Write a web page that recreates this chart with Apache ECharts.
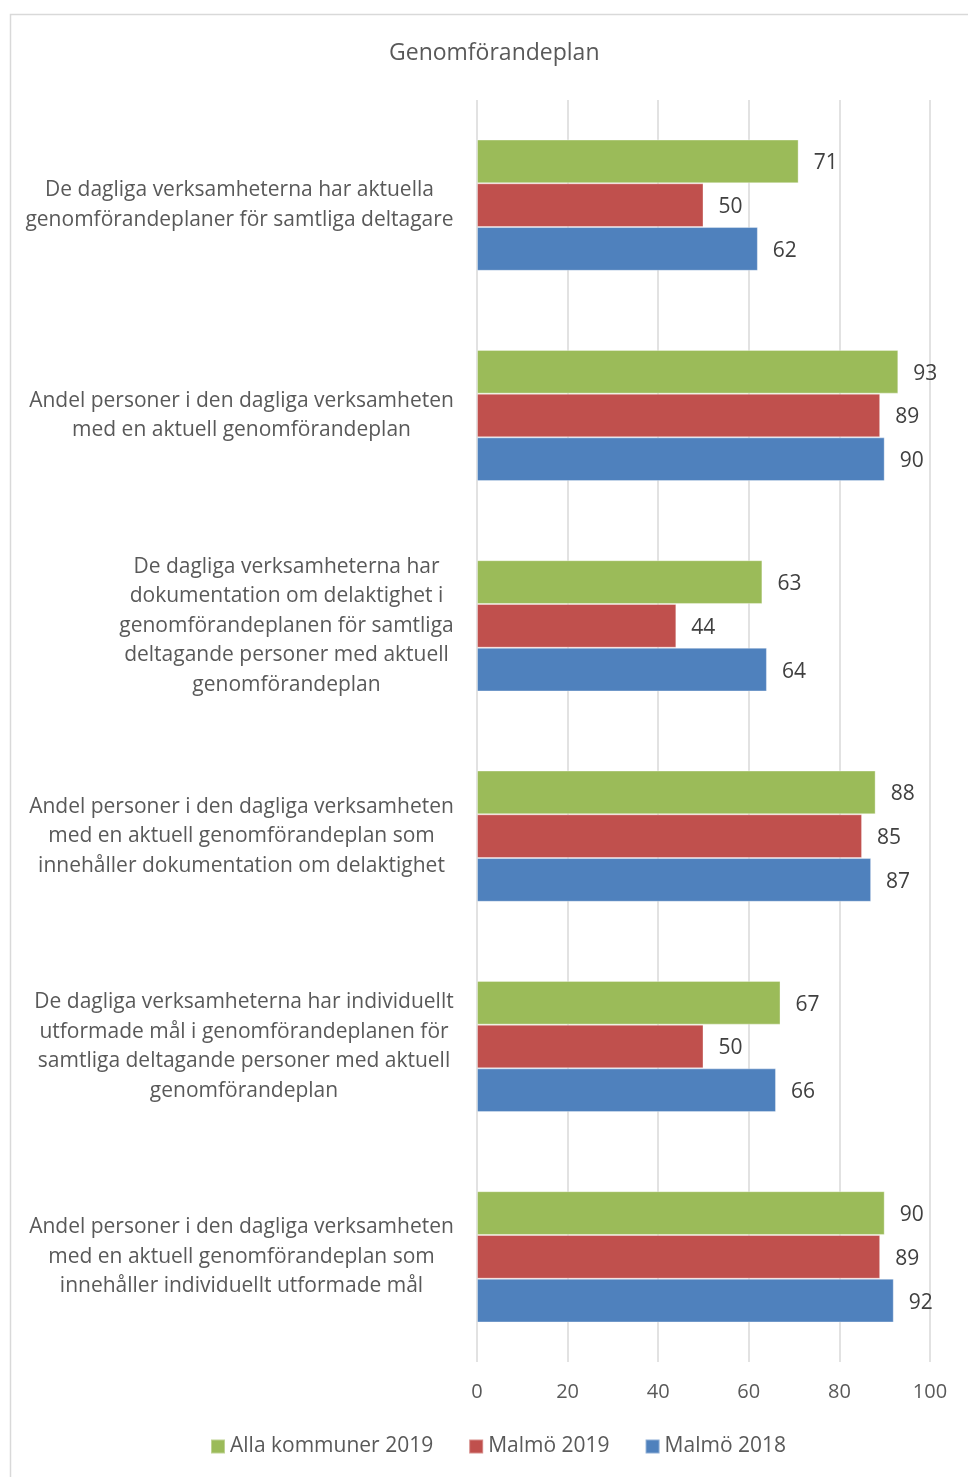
<!DOCTYPE html>
<html>
<head>
<meta charset="utf-8">
<script src="https://cdn.jsdelivr.net/npm/echarts@6/dist/echarts.min.js"></script>
<style>
  html, body { margin: 0; padding: 0; background: #fff; }
  #chart { width: 968px; height: 1477px; }
</style>
</head>
<body>
<div id="chart"></div>
<script>
const categories = [
  'De dagliga verksamheterna har aktuella\ngenomförandeplaner för samtliga deltagare',
  'Andel personer i den dagliga verksamheten\nmed en aktuell genomförandeplan',
  'De dagliga verksamheterna har\ndokumentation om delaktighet i\ngenomförandeplanen för samtliga\ndeltagande personer med aktuell\ngenomförandeplan',
  'Andel personer i den dagliga verksamheten\nmed en aktuell genomförandeplan som\ninnehåller dokumentation om delaktighet',
  'De dagliga verksamheterna har individuellt\nutformade mål i genomförandeplanen för\nsamtliga deltagande personer med aktuell\ngenomförandeplan',
  'Andel personer i den dagliga verksamheten\nmed en aktuell genomförandeplan som\ninnehåller individuellt utformade mål'
];
const seriesNames = ['Alla kommuner 2019', 'Malmö 2019', 'Malmö 2018'];
const allaKommuner2019 = [71, 93, 63, 88, 67, 90];
const malmo2019 = [50, 89, 44, 85, 50, 89];
const malmo2018 = [62, 90, 64, 87, 66, 92];
const xTicks = [0, 20, 40, 60, 80, 100];

const colors = ['#9BBB59', '#C0504D', '#4F81BD'];
const FONT = '"Open Sans", Lato, sans-serif';
const labelSize = 21;

// measure each category block so lines are centred inside a right-aligned block
const ctx = document.createElement('canvas').getContext('2d');
ctx.font = labelSize + 'px "Open Sans"';
const rich = {};
categories.forEach((c, i) => {
  const w = Math.max(...c.split('\n').map(l => ctx.measureText(l).width));
  rich['c' + i] = {
    width: Math.ceil(w), align: 'center', fontSize: labelSize,
    fontFamily: FONT, color: '#595959', lineHeight: 29.5
  };
});

const chart = echarts.init(document.getElementById('chart'));
const values = [allaKommuner2019, malmo2019, malmo2018];

chart.setOption({
  animation: false,
  textStyle: { fontFamily: FONT },
  title: {
    text: 'Genomförandeplan',
    left: 384, top: 37,
    textStyle: { fontSize: 23, fontWeight: 'normal', color: '#595959', fontFamily: FONT }
  },
  graphic: [{
    type: 'rect',
    shape: { x: 10.5, y: 14.5, width: 1000, height: 1500 },
    style: { fill: 'none', stroke: '#d9d9d9', lineWidth: 1.5 },
    silent: true, z: -1
  }],
  legend: {
    data: seriesNames,
    bottom: 15,
    left: 205,
    itemWidth: 14, itemHeight: 14, itemGap: 35,
    icon: 'rect',
    textStyle: { fontSize: 21, color: '#595959', fontFamily: FONT }
  },
  grid: { left: 477, right: 38, top: 100, bottom: 115, containLabel: false },
  xAxis: {
    type: 'value', min: 0, max: 100, interval: 20,
    axisLine: { show: false }, axisTick: { show: false },
    splitLine: { lineStyle: { color: '#d9d9d9', width: 1.5 } },
    axisLabel: {
      fontSize: 20, color: '#595959', margin: 20,
      formatter: v => xTicks.includes(v) ? String(v) : ''
    }
  },
  yAxis: {
    type: 'category', inverse: true, data: categories,
    axisLine: { show: false }, axisTick: { show: false },
    axisLabel: {
      margin: 23,
      formatter: (v, i) => v.split('\n').map(l => '{c' + i + '|' + l + '}').join('\n'),
      rich: rich
    }
  },
  series: seriesNames.map((name, s) => ({
    name: name,
    type: 'bar',
    data: values[s],
    barGap: '0%',
    barCategoryGap: '37.6%',
    itemStyle: { color: colors[s], borderColor: 'rgba(255,255,255,0.35)', borderWidth: 1 },
    label: {
      show: true, position: 'right', distance: 15, offset: [0, 2],
      fontSize: 21, color: '#404040', fontFamily: FONT
    }
  }))
});
</script>
</body>
</html>
